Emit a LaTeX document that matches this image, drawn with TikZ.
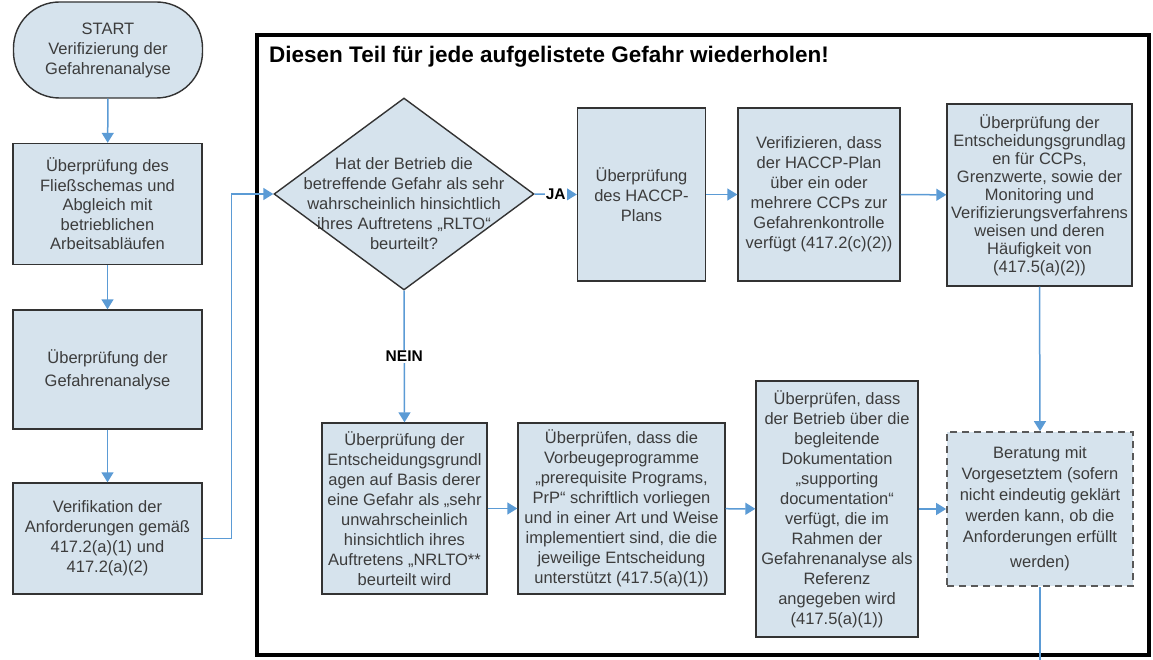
\documentclass[tikz,border=0pt]{standalone}
\usepackage{fontspec}
\setmainfont{Liberation Sans}
\usetikzlibrary{shapes.geometric,arrows.meta}
\definecolor{boxfill}{HTML}{D6E3ED}
\definecolor{arrowblue}{HTML}{5B9BD5}
\definecolor{txtgray}{HTML}{3C3C3C}
\definecolor{edgegray}{HTML}{333333}
\begin{document}
\begin{tikzpicture}[x=1pt,y=-1pt,
  box/.style={draw=edgegray, line width=1.4pt, fill=boxfill, align=center, text=txtgray, font=\fontsize{16.5}{20}\selectfont, inner sep=2pt},
  flow/.style={draw=arrowblue, line width=1.5pt, -{Triangle[width=12pt,length=10pt]}},
  plainflow/.style={draw=arrowblue, line width=1.5pt},
  lab/.style={font=\bfseries\fontsize{15.5}{18}\selectfont, fill=white, inner sep=1pt, text=black}]
\useasboundingbox (0,0) rectangle (1153,660);
\fill[white] (0,0) rectangle (1153,660);

% frame
\draw[line width=4.5pt] (257,35) rectangle (1149,655);
\node[anchor=west, font=\bfseries\fontsize{22.5}{26}\selectfont, inner sep=0] (title) at (269,57) {Diesen Teil für jede aufgelistete Gefahr wiederholen!};

% left column
\node[box, rounded corners=46pt, minimum width=189pt, minimum height=96pt] (start) at (108,50) {START\\Verifizierung der\\Gefahrenanalyse};
\node[box, minimum width=189pt, minimum height=121pt, font=\fontsize{16.5}{19.5}\selectfont] (b1) at (107.5,204) {Überprüfung des\\Fließschemas und\\Abgleich mit\\betrieblichen\\Arbeitsabläufen};
\node[box, minimum width=189pt, minimum height=119pt, font=\fontsize{16.5}{23}\selectfont] (b2) at (107.5,369.5) {Überprüfung der\\Gefahrenanalyse};
\node[box, minimum width=189pt, minimum height=111pt] (b3) at (107.5,538.5) {Verifikation der\\Anforderungen gemäß\\417.2(a)(1) und\\417.2(a)(2)};

% decision
\node[diamond, draw=edgegray, line width=1.4pt, fill=boxfill, minimum width=260pt, minimum height=192pt, inner sep=0] (d) at (404,194) {};
\node[align=center, text=txtgray, font=\fontsize{16.5}{20}\selectfont, inner sep=0] (dtext) at (404,204) {Hat der Betrieb die\\betreffende Gefahr als sehr\\wahrscheinlich hinsichtlich\\ihres Auftretens „RLTO“\\beurteilt?};

% top row
\node[box, minimum width=128pt, minimum height=173pt] (h1) at (641.5,194.5) {Überprüfung\\des HACCP-\\Plans};
\node[box, minimum width=162pt, minimum height=173pt] (h2) at (819,194.5) {Verifizieren, dass\\der HACCP-Plan\\über ein oder\\mehrere CCPs zur\\Gefahrenkontrolle\\verfügt (417.2(c)(2))};
\node[box, minimum width=185pt, minimum height=182pt, font=\fontsize{16.5}{18}\selectfont] (h3) at (1039.5,195) {Überprüfung der\\Entscheidungsgrundlag\\en für CCPs,\\Grenzwerte, sowie der\\Monitoring und\\Verifizierungsverfahrens\\weisen und deren\\Häufigkeit von\\(417.5(a)(2))};

% bottom row
\node[box, minimum width=165pt, minimum height=171pt] (n1) at (404.5,508.5) {Überprüfung der\\Entscheidungsgrundl\\agen auf Basis derer\\eine Gefahr als „sehr\\unwahrscheinlich\\hinsichtlich ihres\\Auftretens „NRLTO**\\beurteilt wird};
\node[box, minimum width=207pt, minimum height=171pt] (n2) at (621.5,508.5) {Überprüfen, dass die\\Vorbeugeprogramme\\„prerequisite Programs,\\PrP“ schriftlich vorliegen\\und in einer Art und Weise\\implementiert sind, die die\\jeweilige Entscheidung\\unterstützt (417.5(a)(1))};
\node[box, minimum width=162pt, minimum height=256pt, font=\fontsize{16.5}{20}\selectfont] (n3) at (837,509) {Überprüfen, dass\\der Betrieb über die\\begleitende\\Dokumentation\\„supporting\\documentation“\\verfügt, die im\\Rahmen der\\Gefahrenanalyse als\\Referenz\\angegeben wird\\(417.5(a)(1))};
\node[box, dash pattern=on 7pt off 5pt, draw=black!65, line width=1.8pt, minimum width=186pt, minimum height=154pt, font=\fontsize{16.5}{21}\selectfont] (bd) at (1040,509) {Beratung mit\\Vorgesetztem (sofern\\nicht eindeutig geklärt\\werden kann, ob die\\Anforderungen erfüllt\\[4pt]werden)};

\coordinate (out) at (1040,660);

% connectors
\draw[flow] (start) -- (b1);
\draw[flow] (b1) -- (b2);
\draw[flow] (b2) -- (b3);
\draw[flow] (b3.east) -- ++(29,0) |- (d.west);
\draw[flow] (d.east) -- node[lab] {JA} (h1.west);
\draw[flow] (h1) -- (h2);
\draw[flow] (h2) -- (h3);
\draw[flow] (h3.south) -- (bd.north);
\draw[flow] (d.south) -- node[lab, pos=0.5] {NEIN} (n1.north);
\draw[flow] (n1) -- (n2);
\draw[flow] (n2) -- (n3);
\draw[flow] (n3) -- (bd);
\draw[plainflow] (bd.south) -- (out);
\end{tikzpicture}
\end{document}
